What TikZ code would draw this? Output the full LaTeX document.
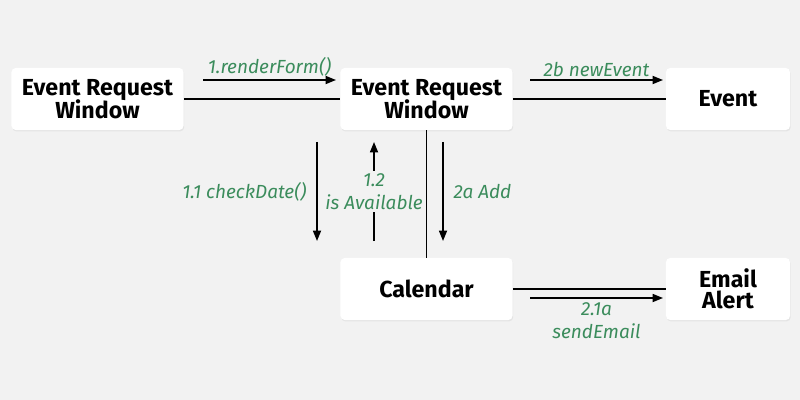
\documentclass[tikz,border=0pt]{standalone}
\usepackage{fontspec}
\setmainfont{Fira Sans}
\usetikzlibrary{arrows.meta, positioning, shadows}
\definecolor{bgray}{HTML}{F2F2F2}
\definecolor{lblgreen}{HTML}{3B8C5C}
\begin{document}
\begin{tikzpicture}[x=0.025cm, y=-0.025cm,
    obj/.style={rectangle, rounded corners=3pt, fill=white, minimum width=4.3cm, minimum height=1.55cm, align=center, font=\fontsize{16.5}{17}\selectfont\bfseries, inner sep=0pt, drop shadow={opacity=0.12, shadow xshift=0.5pt, shadow yshift=-1pt}},
    link/.style={line width=1.2pt},
    arrow/.style={-{Triangle[length=2.6mm, width=2mm]}, line width=1.2pt},
    msg/.style={font=\fontsize{13.5}{16}\selectfont\itshape, text=lblgreen, align=center, inner sep=1pt}
]
\fill[bgray] (0,0) rectangle (800,400);

% Objects
\node[obj] (form) at (97.5, 99) {Event Request\\[-2pt]Window};
\node[obj] (window) at (426.5, 99) {Event Request\\[-2pt]Window};
\node[obj, minimum width=3.1cm] (event) at (728, 99) {Event};
\node[obj] (calendar) at (426.5, 289) {Calendar};
\node[obj, minimum width=3.1cm] (email) at (728, 289) {Email\\[-2pt]Alert};

% Links
\draw[link] (form) -- (window);
\draw[link] (window) -- (event);
\draw[link] (window) -- (calendar);
\draw[link] (calendar) -- (email);

% Message anchors
\coordinate (m1s) at (203, 80);  \coordinate (m1e) at (336, 80);
\coordinate (m2s) at (530, 80);  \coordinate (m2e) at (663, 80);
\coordinate (m3s) at (317, 142); \coordinate (m3e) at (317, 241);
\coordinate (m4s) at (374, 241); \coordinate (m4e) at (374, 142);
\coordinate (m5s) at (443, 142); \coordinate (m5e) at (443, 241);
\coordinate (m6s) at (530, 298); \coordinate (m6e) at (663, 298);

% Messages
\draw[arrow] (m1s) -- node[msg, above=1pt] {1.renderForm()} (m1e);
\draw[arrow] (m2s) -- node[msg, above=1pt] {2b newEvent} (m2e);
\draw[arrow] (m3s) -- node[msg, left=6pt] {1.1 checkDate()} (m3e);
\draw[arrow] (m4s) -- node[msg, fill=bgray, inner sep=2pt] {1.2\\is Available} (m4e);
\draw[arrow] (m5s) -- node[msg, right=6pt] {2a Add} (m5e);
\draw[arrow] (m6s) -- node[msg, below=2pt] {2.1a\\sendEmail} (m6e);
\end{tikzpicture}
\end{document}
